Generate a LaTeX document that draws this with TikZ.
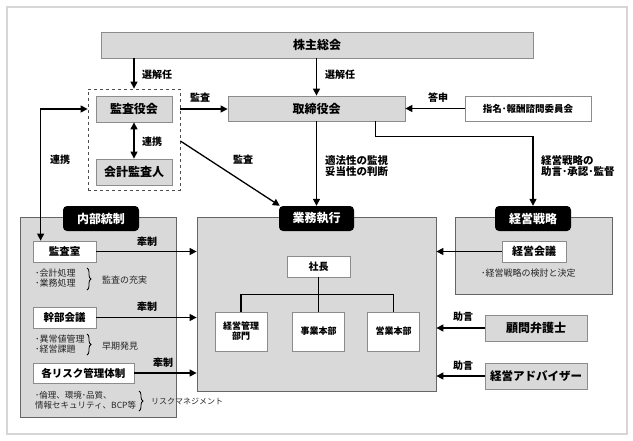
\documentclass[tikz,border=0pt]{standalone}
\usepackage{fontspec}
\setmainfont{Noto Sans CJK JP}
\usetikzlibrary{arrows.meta,decorations.pathreplacing,calc}
\definecolor{boxgray}{HTML}{D9D9D9}
\definecolor{bordergray}{HTML}{8C8C8C}
\definecolor{framegray}{HTML}{D6D6D6}
\newcommand{\fs}[1]{\fontsize{#1}{#1}\selectfont}
\begin{document}
\begin{tikzpicture}[x=1pt,y=-1pt,
  graybox/.style={draw=bordergray, line width=0.8pt, fill=boxgray, inner sep=0pt, font=\bfseries\fs{12}},
  whitebox/.style={draw=bordergray, line width=0.8pt, fill=white, inner sep=0pt, font=\bfseries\fs{10.5}},
  panel/.style={draw=black!60, line width=0.8pt, fill=boxgray, inner sep=0pt},
  tag/.style={fill=black, rounded corners=4pt, inner sep=0pt, text=white, font=\bfseries\fs{12}, minimum height=25pt},
  arr/.style={-{Triangle[length=7pt,width=7pt]}, line width=1.3pt},
  darr/.style={{Triangle[length=7pt,width=7pt]}-{Triangle[length=7pt,width=7pt]}, line width=1.3pt},
  lab/.style={font=\bfseries\fs{10}, inner sep=0pt, anchor=west, align=left},
  note/.style={font=\fs{9}, text=black!85, inner sep=0pt, anchor=west, align=left},
  brc/.style={decorate, decoration={brace, amplitude=4pt}, line width=0.8pt},
]
\useasboundingbox (0,0) rectangle (633,440);
\draw[framegray, line width=1.5pt] (7,7) rectangle (627,434);

% top
\node[graybox, minimum width=432pt, minimum height=26pt] (kabu) at (317,45) {株主総会};
\node[draw=black!70, dashed, line width=0.8pt, minimum width=92pt, minimum height=101pt, inner sep=0pt] (dash) at (134,139.5) {};
\node[graybox, minimum width=76pt, minimum height=26pt] (kansa) at (134,109) {監査役会};
\node[graybox, minimum width=76pt, minimum height=26pt] (kaikei) at (134,172) {会計監査人};
\node[graybox, minimum width=177pt, minimum height=25pt] (tori) at (316.5,108.5) {取締役会};
\node[whitebox, font=\bfseries\fs{9.5}, minimum width=126pt, minimum height=25pt] (shimon) at (528,108.5) {指名･報酬諮問委員会};

% panels
\node[panel, minimum width=156pt, minimum height=200pt] (npanel) at (98,317) {};
\node[tag, minimum width=76pt] (ntag) at (101,218.5) {内部統制};
\node[panel, minimum width=239pt, minimum height=174pt] (gpanel) at (316.5,304) {};
\node[tag, minimum width=75pt] (gtag) at (316.5,218.5) {業務執行};
\node[panel, minimum width=157pt, minimum height=77pt] (spanel) at (533.5,255.5) {};
\node[tag, minimum width=76pt] (stag) at (533,218.5) {経営戦略};

% internal control
\node[whitebox, minimum width=63pt, minimum height=21pt] (kshitsu) at (64.5,251.5) {監査室};
\node[whitebox, minimum width=63pt, minimum height=21pt] (kanbu) at (64.5,317.5) {幹部会議};
\node[whitebox, minimum width=101pt, minimum height=20pt] (risk) at (83.5,373) {各リスク管理体制};
\node[note] (n1) at (35,278) {･会計処理\\[1pt]･業務処理};
\draw[brc] (87,268) -- (87,290);
\node[note] (n1r) at (102,280) {監査の充実};
\node[note] (n2) at (35,344) {･異常値管理\\[1pt]･経営課題};
\draw[brc] (87,334) -- (87,355);
\node[note] (n2r) at (102,346) {早期発見};
\node[note, font=\fs{8.5}] (n3) at (35,400.5) {･倫理、環境･品質、\\[1pt]情報セキュリティ、BCP等};
\draw[brc] (139,391) -- (139,411);
\node[note, font=\fs{8}] (n3r) at (151,401) {リスクマネジメント};

% execution
\node[whitebox, font=\bfseries\fs{10}, minimum width=63pt, minimum height=21pt] (shacho) at (318.5,266.5) {社長};
\node[whitebox, font=\bfseries\fs{9}, align=center, minimum width=52pt, minimum height=39pt] (c1) at (241,331.5) {経営管理\\[1pt]部門};
\node[whitebox, font=\bfseries\fs{9}, minimum width=52pt, minimum height=39pt] (c2) at (318.5,331.5) {事業本部};
\node[whitebox, font=\bfseries\fs{9}, minimum width=52pt, minimum height=39pt] (c3) at (393.5,331.5) {営業本部};
\draw[line width=1.2pt] (shacho.south) -- (c2.north);
\draw[line width=1.2pt] (c1.north) |- ($(shacho.south)+(0,17)$) -| (c3.north);

% strategy
\node[whitebox, font=\bfseries\fs{11}, minimum width=64pt, minimum height=21pt] (keiei) at (534,251.5) {経営会議};
\node[note] (n4) at (481,273) {･経営戦略の検討と決定};
\node[graybox, minimum width=102pt, minimum height=26pt] (komon) at (536,328) {顧問弁護士};
\node[graybox, font=\bfseries\fs{11.5}, minimum width=102pt, minimum height=26pt] (adv) at (536,376) {経営アドバイザー};

% arrows
\draw[arr] (kabu.south -| dash.north) -- (dash.north);
\draw[arr] (kabu.south -| tori.north) -- (tori.north);
\draw[arr] (kansa.east -| dash.east) -- (tori.west |- kansa.east);
\draw[darr] (kansa.south) -- (kaikei.north);
\draw[arr] ([yshift=-1.5pt]dash.east) -- ([xshift=1pt]gtag.north west);
\draw[arr] (tori.south) -- (gtag.north);
\draw[arr] (shimon.west) -- (tori.east);
\draw[arr] ([xshift=148pt]tori.south west) -- ++(0,15) -| (stag.north);
\draw[darr] ([xshift=8pt]kshitsu.north west) |- (kansa.west -| dash.west);
\draw[arr] (kshitsu.east) -- (kshitsu.east -| gpanel.west);
\draw[arr] (kanbu.east) -- (kanbu.east -| gpanel.west);
\draw[arr] (risk.east) -- (risk.east -| gpanel.west);
\draw[arr] (keiei.west) -- (keiei.west -| gpanel.east);
\draw[arr] (komon.west) -- (komon.west -| gpanel.east);
\draw[arr] (adv.west) -- (adv.west -| gpanel.east);

% labels
\node[lab] (l1) at (142,75) {選解任};
\node[lab] (l2) at (325,75) {選解任};
\node[lab] (l3) at (190,98) {監査};
\node[lab] (l4) at (428,98) {答申};
\node[lab] (l5) at (142,142) {連携};
\node[lab] (l6) at (50,160) {連携};
\node[lab] (l7) at (233,160) {監査};
\node[lab, font=\bfseries\fs{10.5}] (l8) at (325,166) {適法性の監視\\[1pt]妥当性の判断};
\node[lab, font=\bfseries\fs{10.5}] (l9) at (541,166) {経営戦略の\\[1pt]助言･承認･監督};
\node[lab] (l10) at (137,242) {牽制};
\node[lab] (l11) at (137,307) {牽制};
\node[lab] (l12) at (153,363) {牽制};
\node[lab] (l13) at (453,317) {助言};
\node[lab] (l14) at (453,366) {助言};
\end{tikzpicture}
\end{document}
